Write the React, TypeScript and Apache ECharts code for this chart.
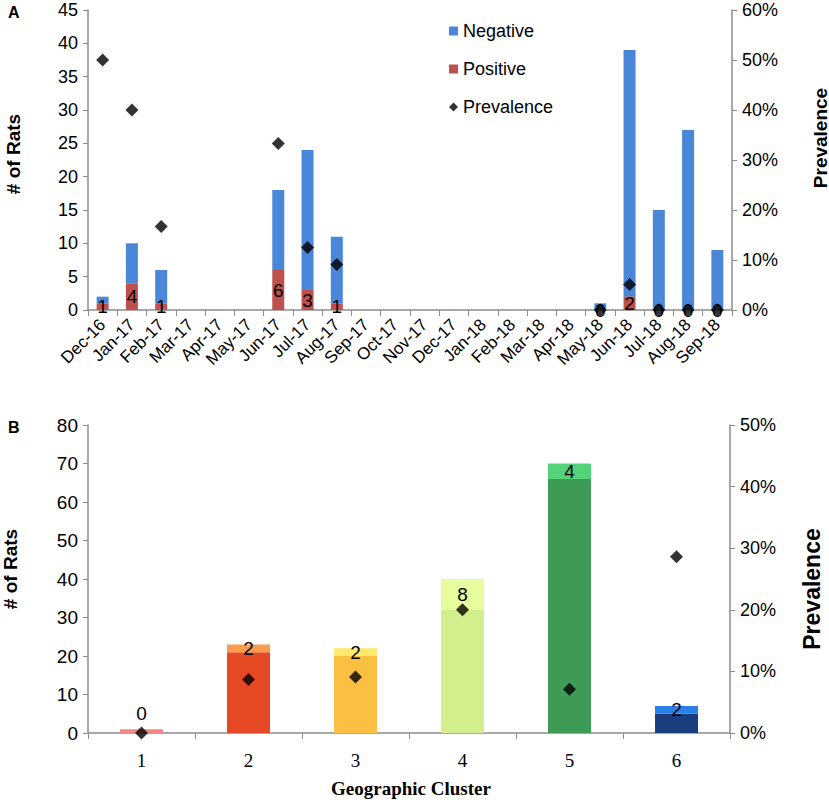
import React, { useEffect, useRef } from "react";
import * as echarts from "echarts";

const monthLabels = [
  "Dec-16", "Jan-17", "Feb-17", "Mar-17", "Apr-17", "May-17", "Jun-17", "Jul-17",
  "Aug-17", "Sep-17", "Oct-17", "Nov-17", "Dec-17", "Jan-18", "Feb-18", "Mar-18",
  "Apr-18", "May-18", "Jun-18", "Jul-18", "Aug-18", "Sep-18",
];
const monthPositive = [1, 4, 1, null, null, null, 6, 3, 1, null, null, null, null, null, null, null, null, 0, 2, 0, 0, 0];
const monthNegative = [1, 6, 5, null, null, null, 12, 21, 10, null, null, null, null, null, null, null, null, 1, 37, 15, 27, 9];
const monthPrevalence = [50, 40, 16.7, null, null, null, 33.3, 12.5, 9.1, null, null, null, null, null, null, null, null, 0, 5.1, 0, 0, 0];

const clusterLabels = ["1", "2", "3", "4", "5", "6"];
const clusterNegative = [1, 21, 20, 32, 66, 5];
const clusterPositive = [0, 2, 2, 8, 4, 2];
const clusterPrevalence = [0, 8.7, 9.1, 20, 7.1, 28.6];
const clusterBaseColors = ["#f4878a", "#e64a25", "#fbbf42", "#d3ef8d", "#3d9b55", "#1b3f7e"];
const clusterTopColors = ["#f4878a", "#f99c4c", "#fde96b", "#e6fc9d", "#55d37a", "#2b7fe5"];

const axisGray = "#8c8c8c";
const sans = "'Liberation Sans', Arial, sans-serif";
const serif = "'Liberation Serif', 'Times New Roman', serif";

export default function App() {
  const ref = useRef<HTMLDivElement>(null);
  useEffect(() => {
    if (!ref.current) return;
    const chart = echarts.init(ref.current, null, { renderer: "svg" });
    const pct = (v: number) => Math.round(v) + "%";
    const option: any = {
      animation: false,
      backgroundColor: "#ffffff",
      legend: {
        orient: "vertical",
        left: 444,
        top: 17,
        itemGap: 20,
        itemWidth: 9,
        itemHeight: 9,
        textStyle: { fontFamily: sans, fontSize: 18, color: "#000" },
        data: [
          { name: "Negative", icon: "rect" },
          { name: "Positive", icon: "rect" },
          { name: "Prevalence", icon: "diamond" },
        ],
      },
      grid: [
        { left: 88, top: 10, width: 644, height: 300 },
        { left: 88, top: 425, width: 642, height: 308 },
      ],
      xAxis: [
        {
          type: "category",
          gridIndex: 0,
          data: monthLabels,
          axisLine: { lineStyle: { color: axisGray, width: 1.5 } },
          axisTick: { show: true, length: 6, lineStyle: { color: axisGray } },
          axisLabel: { rotate: 45, interval: 0, fontFamily: sans, fontSize: 17, color: "#000", margin: 12 },
        },
        {
          type: "category",
          gridIndex: 1,
          data: clusterLabels,
          axisLine: { lineStyle: { color: axisGray, width: 1.5 } },
          axisTick: { show: true, length: 6, lineStyle: { color: axisGray } },
          axisLabel: { fontFamily: serif, fontSize: 19, color: "#000", margin: 18 },
        },
      ],
      yAxis: [
        {
          type: "value", gridIndex: 0, min: 0, max: 45, interval: 5, position: "left",
          axisLine: { show: true, lineStyle: { color: axisGray, width: 1.5 } },
          axisTick: { show: true, length: 5, lineStyle: { color: axisGray } },
          splitLine: { show: false },
          axisLabel: { fontFamily: sans, fontSize: 18, color: "#000", margin: 10 },
        },
        {
          type: "value", gridIndex: 0, min: 0, max: 60, interval: 10, position: "right",
          axisLine: { show: true, lineStyle: { color: axisGray, width: 1.5 } },
          axisTick: { show: true, length: 5, lineStyle: { color: axisGray } },
          splitLine: { show: false },
          axisLabel: { fontFamily: sans, fontSize: 18, color: "#000", margin: 10, formatter: pct },
        },
        {
          type: "value", gridIndex: 1, min: 0, max: 80, interval: 10, position: "left",
          axisLine: { show: true, lineStyle: { color: axisGray, width: 1.5 } },
          axisTick: { show: true, length: 5, lineStyle: { color: axisGray } },
          splitLine: { show: false },
          axisLabel: { fontFamily: sans, fontSize: 19, color: "#000", margin: 10 },
        },
        {
          type: "value", gridIndex: 1, min: 0, max: 50, interval: 10, position: "right",
          axisLine: { show: true, lineStyle: { color: axisGray, width: 1.5 } },
          axisTick: { show: true, length: 5, lineStyle: { color: axisGray } },
          splitLine: { show: false },
          axisLabel: { fontFamily: sans, fontSize: 18, color: "#000", margin: 10, formatter: pct },
        },
      ],
      series: [
        {
          name: "Positive",
          type: "bar",
          xAxisIndex: 0,
          yAxisIndex: 0,
          stack: "a",
          barWidth: 12,
          data: monthPositive,
          itemStyle: { color: "#c0504d" },
          label: { show: true, position: "inside", color: "#000", fontFamily: sans, fontSize: 19 },
          z: 2,
        },
        {
          name: "Negative",
          type: "bar",
          xAxisIndex: 0,
          yAxisIndex: 0,
          stack: "a",
          barWidth: 12,
          data: monthNegative,
          itemStyle: { color: "#4a87d8" },
          z: 1,
        },
        {
          name: "Prevalence",
          type: "scatter",
          xAxisIndex: 0,
          yAxisIndex: 1,
          symbol: "diamond",
          symbolSize: 13,
          data: monthPrevalence,
          itemStyle: { color: "#000" },
          z: 5,
        },
        {
          name: "ClusterNegative",
          type: "bar",
          xAxisIndex: 1,
          yAxisIndex: 2,
          stack: "b",
          barWidth: 43,
          data: clusterNegative.map((v, i) => ({ value: v, itemStyle: { color: clusterBaseColors[i] } })),
        },
        {
          name: "ClusterPositive",
          type: "bar",
          xAxisIndex: 1,
          yAxisIndex: 2,
          stack: "b",
          barWidth: 43,
          data: clusterPositive.map((v, i) => ({
            value: v,
            itemStyle: { color: clusterTopColors[i] },
            label: v === 0 ? { position: "top", distance: 6 } : { position: "inside" },
          })),
          label: { show: true, color: "#000", fontFamily: sans, fontSize: 19 },
        },
        {
          name: "ClusterPrevalence",
          type: "scatter",
          xAxisIndex: 1,
          yAxisIndex: 3,
          symbol: "diamond",
          symbolSize: 13,
          data: clusterPrevalence,
          itemStyle: { color: "#000" },
          z: 5,
        },
      ],
      graphic: [
        { type: "text", left: 8, top: 4, style: { text: "A", font: `bold 16px ${sans}`, fill: "#000" } },
        { type: "text", left: 8, top: 419, style: { text: "B", font: `bold 16px ${sans}`, fill: "#000" } },
        {
          type: "text", x: 13, y: 154, rotation: Math.PI / 2,
          style: { text: "# of Rats", font: `bold 19px ${sans}`, fill: "#000", align: "center", verticalAlign: "middle" },
        },
        {
          type: "text", x: 820, y: 138, rotation: Math.PI / 2,
          style: { text: "Prevalence", font: `bold 19px ${sans}`, fill: "#000", align: "center", verticalAlign: "middle" },
        },
        {
          type: "text", x: 10, y: 569, rotation: Math.PI / 2,
          style: { text: "# of Rats", font: `bold 19px ${sans}`, fill: "#000", align: "center", verticalAlign: "middle" },
        },
        {
          type: "text", x: 812, y: 589, rotation: Math.PI / 2,
          style: { text: "Prevalence", font: `bold 23px ${sans}`, fill: "#000", align: "center", verticalAlign: "middle" },
        },
        {
          type: "text", x: 411, y: 788,
          style: { text: "Geographic Cluster", font: `bold 19px ${serif}`, fill: "#000", align: "center", verticalAlign: "middle" },
        },
      ],
    };
    chart.setOption(option);
    return () => chart.dispose();
  }, []);
  return (
    <div
      ref={ref}
      style={{ position: "absolute", left: 0, top: 0, width: 829, height: 800 }}
    />
  );
}
